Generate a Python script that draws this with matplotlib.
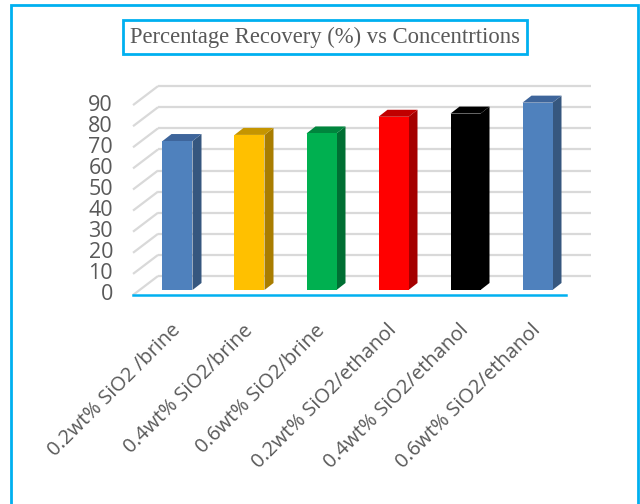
import matplotlib
matplotlib.use('Agg')
import matplotlib.pyplot as plt
from matplotlib.patches import Rectangle, Polygon

# 数据
categories = ["0.2wt% SiO2 /brine", "0.4wt% SiO2/brine", "0.6wt% SiO2/brine",
              "0.2wt% SiO2/ethanol", "0.4wt% SiO2/ethanol", "0.6wt% SiO2/ethanol"]
recovery = [70.6, 73.5, 74.2, 82.1, 83.6, 88.8]
yticks = [0, 10, 20, 30, 40, 50, 60, 70, 80, 90]
title = "Percentage Recovery (%) vs Concentrtions"

front_c = ["#4f81bd", "#ffc000", "#00b050", "#ff0000", "#000000", "#4f81bd"]
side_c = ["#36577f", "#a97d00", "#006f33", "#a50000", "#000000", "#36577f"]
top_c = ["#3e659b", "#c59500", "#00853d", "#c00000", "#000000", "#3e659b"]

W, H = 640, 504
PX_X, PX_Y = 72.0, 2.11       # 每个类别 / 每个单位 对应的像素
X0, Y0 = 177.5, 290.0         # 第一个柱中心、柱平面零点的像素位置

def px(dx, dy):
    # 像素偏移 -> 数据偏移 (dy 向上为正)
    return dx / PX_X, dy / PX_Y

back = px(18.4, 14)           # 背墙相对柱平面
front = px(-6.6, -5)          # 前沿相对柱平面
depth = px(9, 7)              # 柱子厚度
bw = 30 / PX_X
xl, xr = -0.526, 5.49

fig = plt.figure(figsize=(W / 100, H / 100), dpi=100)
ax = fig.add_axes([0, 0, 1, 1])
ax.set_xlim(-X0 / PX_X, (W - X0) / PX_X)
ax.set_ylim((Y0 - H) / PX_Y, Y0 / PX_Y)
ax.axis('off')

grid_c = "#d9d9d9"
for v in yticks:
    # 背墙网格线 + 左墙斜线
    ax.plot([xl + back[0], xr + back[0]], [v + back[1], v + back[1]],
            color=grid_c, lw=1.6, solid_capstyle='butt', zorder=1)
    ax.plot([xl + front[0], xl + back[0]], [v + front[1], v + back[1]],
            color=grid_c, lw=1.6, solid_capstyle='butt', zorder=1)
    ax.text(xl + front[0] - 20 / PX_X, v + front[1], str(v), ha='right', va='center',
            fontsize=15.5, color='#595959', family='Open Sans')

# 底面前沿（蓝色轴线）
ax.plot([xl + front[0], xr + front[0]], [front[1], front[1]], color='#00b0f0',
        lw=1.8, zorder=2)

dx, dy = depth
for i, v in enumerate(recovery):
    l, r = i - bw / 2, i + bw / 2
    ax.add_patch(Polygon([(r, 0), (r + dx, dy), (r + dx, v + dy), (r, v)],
                         closed=True, facecolor=side_c[i], edgecolor='none', zorder=3))
    ax.add_patch(Polygon([(l, v), (r, v), (r + dx, v + dy), (l + dx, v + dy)],
                         closed=True, facecolor=top_c[i], edgecolor='none', zorder=3))
    ax.add_patch(Rectangle((l, 0), bw, v, facecolor=front_c[i], edgecolor='none', zorder=4))
    ax.text(i - 7 / PX_X, -14.5, categories[i], rotation=45, rotation_mode='anchor',
            ha='right', va='top', fontsize=14.5, color='#595959', family='Open Sans')

fig.text(325 / W, 1 - 37 / H, title, ha='center', va='center', fontsize=16.3,
         color='#595959', family='Liberation Serif',
         bbox=dict(boxstyle='square,pad=0.3', facecolor='white', edgecolor='#00b0f0', lw=2))

# 外框
fig.patches.append(Rectangle((11 / W, -0.05), (638 - 11) / W, 1.05 - 5 / H,
                             transform=fig.transFigure, fill=False,
                             edgecolor='#00b0f0', lw=2))

fig.savefig("out.png", dpi=100)
